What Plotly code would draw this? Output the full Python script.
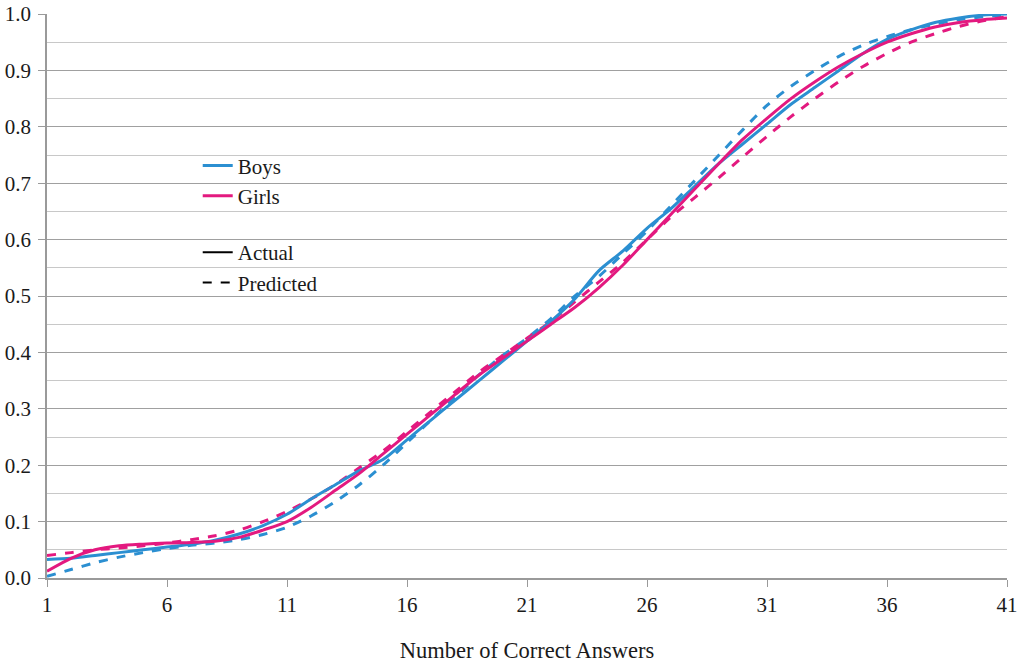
import plotly.graph_objects as go

answers = list(range(1, 42))

boys_actual = [0.033, 0.035, 0.040, 0.045, 0.050, 0.055, 0.060, 0.067, 0.078, 0.093,
               0.113, 0.140, 0.165, 0.190, 0.210, 0.245, 0.280, 0.315, 0.350, 0.385,
               0.420, 0.455, 0.495, 0.545, 0.580, 0.620, 0.655, 0.695, 0.735, 0.770,
               0.805, 0.840, 0.870, 0.900, 0.930, 0.955, 0.972, 0.985, 0.993, 0.998, 1.000]

girls_actual = [0.012, 0.035, 0.050, 0.057, 0.060, 0.062, 0.063, 0.065, 0.072, 0.085,
                0.100, 0.125, 0.155, 0.185, 0.220, 0.255, 0.290, 0.325, 0.360, 0.390,
                0.420, 0.450, 0.480, 0.515, 0.555, 0.600, 0.645, 0.690, 0.735, 0.778,
                0.815, 0.850, 0.880, 0.907, 0.930, 0.950, 0.965, 0.977, 0.985, 0.990, 0.993]

boys_predicted = [0.003, 0.015, 0.027, 0.037, 0.045, 0.052, 0.058, 0.062, 0.068, 0.077,
                  0.090, 0.110, 0.135, 0.165, 0.200, 0.240, 0.280, 0.320, 0.360, 0.395,
                  0.425, 0.460, 0.500, 0.535, 0.575, 0.615, 0.660, 0.705, 0.750, 0.795,
                  0.838, 0.872, 0.900, 0.925, 0.945, 0.960, 0.972, 0.982, 0.990, 0.995, 0.998]

girls_predicted = [0.040, 0.045, 0.050, 0.053, 0.057, 0.062, 0.068, 0.075, 0.085, 0.100,
                   0.118, 0.140, 0.165, 0.195, 0.225, 0.260, 0.295, 0.330, 0.365, 0.395,
                   0.425, 0.455, 0.490, 0.525, 0.560, 0.600, 0.640, 0.675, 0.710, 0.747,
                   0.783, 0.818, 0.850, 0.880, 0.907, 0.930, 0.950, 0.965, 0.978, 0.988, 0.995]

x_ticks = [1, 6, 11, 16, 21, 26, 31, 36, 41]

BLUE = "#2b8fd1"
PINK = "#e3197f"
FONT = "Liberation Serif"
AXIS = "#9a9a9a"

fig = go.Figure()

for y, color, dash in [(boys_predicted, BLUE, "dash"), (girls_predicted, PINK, "dash"),
                       (boys_actual, BLUE, "solid"), (girls_actual, PINK, "solid")]:
    fig.add_trace(go.Scatter(x=answers, y=y, mode="lines", showlegend=False,
                             line=dict(color=color, width=3, dash=dash, shape="spline", smoothing=0.8)))

# legend entries
fig.add_trace(go.Scatter(x=[None], y=[None], mode="lines", name="Boys", legendgroup="a",
                         line=dict(color=BLUE, width=3)))
fig.add_trace(go.Scatter(x=[None], y=[None], mode="lines", name="Girls", legendgroup="a",
                         line=dict(color=PINK, width=3)))
fig.add_trace(go.Scatter(x=[None], y=[None], mode="lines", name="Actual", legendgroup="b",
                         line=dict(color="black", width=2)))
fig.add_trace(go.Scatter(x=[None], y=[None], mode="lines", name="Predicted", legendgroup="b",
                         line=dict(color="black", width=2, dash="dash")))

fig.update_layout(
    width=1022, height=665,
    margin=dict(l=47, r=15, t=14, b=87),
    paper_bgcolor="white", plot_bgcolor="white",
    font=dict(family=FONT, size=21, color="#1a1a1a"),
    legend=dict(x=0.157, y=0.767, xanchor="left", yanchor="top", bgcolor="rgba(0,0,0,0)",
                traceorder="grouped", tracegroupgap=26, font=dict(size=21)),
    xaxis=dict(range=[1, 41], tickvals=x_ticks, ticks="outside", ticklen=7, tickcolor=AXIS,
               showgrid=False, showline=True, linecolor=AXIS, linewidth=1.5, zeroline=False,
               automargin=False, tickfont=dict(size=21), ticklabeloverflow="allow",
               title=dict(text="Number of Correct Answers", standoff=26, font=dict(size=22.5))),
    yaxis=dict(range=[0, 1], dtick=0.1, tickformat=".1f", showgrid=True, gridcolor="#a0a0a0",
               gridwidth=1.2, zeroline=False, showline=True, linecolor=AXIS, linewidth=1.5,
               ticks="outside", ticklen=7, tickcolor=AXIS, automargin=False,
               tickfont=dict(size=21), ticklabeloverflow="allow", ticklabelstandoff=3,
               minor=dict(dtick=0.05, showgrid=True, gridcolor="#c8c8c8", gridwidth=1)),
)

fig.write_html("out.html", config={"displayModeBar": False},
               post_script="document.body.style.margin='0';")
